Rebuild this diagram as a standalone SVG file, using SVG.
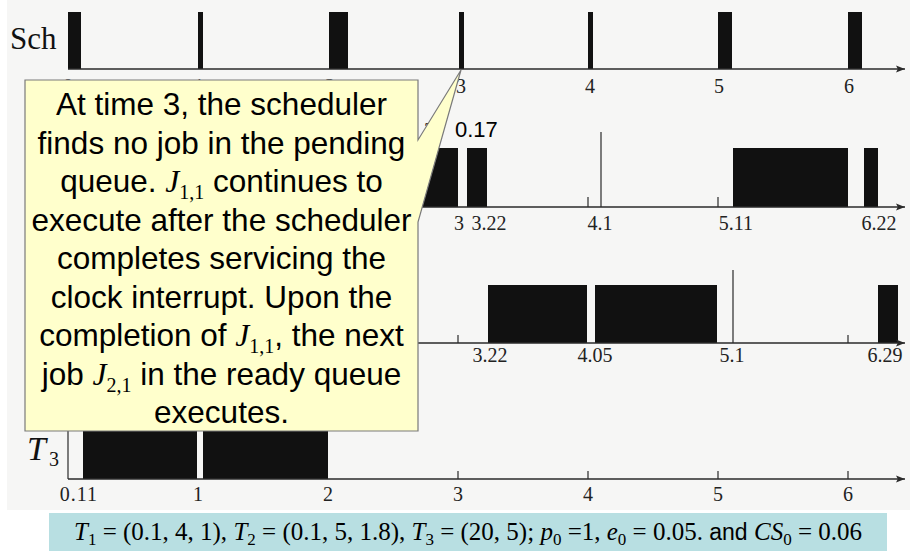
<svg xmlns="http://www.w3.org/2000/svg" width="910" height="555" viewBox="0 0 910 555">
<style>
.ax{stroke:#2a2a2a;stroke-width:1.4;fill:none}
.bar{fill:#111}
.tk{stroke:#2a2a2a;stroke-width:1.2}
.lb{font-family:"Liberation Serif",serif;font-size:20px;fill:#222;text-anchor:middle}
.co{font-family:"Liberation Sans",Arial,sans-serif;font-size:31.5px;fill:#000;text-anchor:middle}
.ji{font-family:"Liberation Serif",serif;font-style:italic}
.sb{font-family:"Liberation Serif",serif;font-size:20px}
.fm{font-family:"Liberation Serif",serif;font-size:25px;fill:#000;text-anchor:middle}
</style>
<defs>
<marker id="ah" viewBox="0 0 10 10" refX="10" refY="5" markerWidth="9" markerHeight="9" markerUnits="userSpaceOnUse" orient="auto">
<path d="M0,1 L10,5 L0,9 L2,5 Z" fill="#2a2a2a"/>
</marker>
</defs>
<rect x="0" y="0" width="910" height="555" fill="#ffffff"/>
<rect x="7" y="0" width="903" height="510" fill="#f6f6f5"/>

<g id="row-sch">
<text x="10" y="49" font-family="Liberation Serif,serif" font-size="31" fill="#111">Sch</text>
<rect class="bar" x="68" y="12" width="13" height="57"/>
<rect class="bar" x="198" y="12" width="5" height="57"/>
<rect class="bar" x="329" y="12" width="19" height="57"/>
<rect class="bar" x="459" y="12" width="5" height="57"/>
<rect class="bar" x="588" y="12" width="5" height="57"/>
<rect class="bar" x="718" y="12" width="14" height="57"/>
<rect class="bar" x="848" y="12" width="14" height="57"/>
<text class="lb" x="68" y="93">0</text>
<text class="lb" x="199" y="93">1</text>
<text class="lb" x="330" y="93">2</text>
<text class="lb" x="461" y="93">3</text>
<text class="lb" x="590" y="93">4</text>
<text class="lb" x="719" y="93">5</text>
<text class="lb" x="849" y="93">6</text>
</g>

<g id="row-t1">
<rect class="bar" x="400" y="148" width="58" height="59"/>
<rect class="bar" x="467" y="148" width="20" height="59"/>
<rect class="bar" x="733" y="148" width="115" height="59"/>
<rect class="bar" x="864" y="148" width="14" height="59"/>
<line class="tk" x1="601" y1="132" x2="601" y2="207"/>
<line class="tk" x1="588" y1="197" x2="588" y2="207"/>
<line class="tk" x1="718" y1="197" x2="718" y2="207"/>
<text x="424" y="137" font-family="Liberation Serif,serif" font-size="20" fill="#222">3</text>
<text x="455" y="137" font-family="Liberation Sans,Arial,sans-serif" font-size="22" fill="#000">0.17</text>
<text class="lb" x="459" y="230">3</text>
<text class="lb" x="489" y="230">3.22</text>
<text class="lb" x="600" y="230">4.1</text>
<text class="lb" x="736" y="230">5.11</text>
<text class="lb" x="879" y="230">6.22</text>
</g>

<g id="row-t2">
<rect class="bar" x="488" y="285" width="99" height="58"/>
<rect class="bar" x="595" y="285" width="122" height="58"/>
<rect class="bar" x="878" y="285" width="20" height="58"/>
<line class="tk" x1="733" y1="270" x2="733" y2="343"/>
<line class="tk" x1="458" y1="335" x2="458" y2="343"/>
<line class="tk" x1="848" y1="335" x2="848" y2="343"/>
<text class="lb" x="490" y="362">3.22</text>
<text class="lb" x="595" y="362">4.05</text>
<text class="lb" x="732" y="362">5.1</text>
<text class="lb" x="885" y="362">6.29</text>
</g>

<g id="row-t3">
<text x="27" y="460" font-family="Liberation Serif,serif" font-style="italic" font-size="34" fill="#111">T</text>
<text x="49" y="466" font-family="Liberation Serif,serif" font-size="20" fill="#111">3</text>
<line class="tk" x1="68" y1="420" x2="68" y2="479"/>
<rect class="bar" x="83" y="420" width="114" height="59"/>
<rect class="bar" x="203" y="420" width="125" height="59"/>
<line class="tk" x1="458" y1="471" x2="458" y2="479"/>
<line class="tk" x1="588" y1="471" x2="588" y2="479"/>
<line class="tk" x1="718" y1="471" x2="718" y2="479"/>
<line class="tk" x1="848" y1="471" x2="848" y2="479"/>
<text class="lb" x="79" y="501" letter-spacing="1">0.11</text>
<text class="lb" x="198" y="501">1</text>
<text class="lb" x="328" y="501">2</text>
<text class="lb" x="458" y="501">3</text>
<text class="lb" x="588" y="501">4</text>
<text class="lb" x="718" y="501">5</text>
<text class="lb" x="848" y="501">6</text>
</g>

<g id="connectors">
<line class="ax" x1="68" y1="69" x2="905" y2="69" marker-end="url(#ah)"/>
<line class="ax" x1="68" y1="207" x2="905" y2="207" marker-end="url(#ah)"/>
<line class="ax" x1="68" y1="343" x2="905" y2="343" marker-end="url(#ah)"/>
<line class="ax" x1="68" y1="479" x2="905" y2="479" marker-end="url(#ah)"/>
</g>

<g id="callout">
<path d="M25,80 H418 V140 L461,70 L418,222 V431 H25 Z" fill="#ffffcc" stroke="#7a7a7a" stroke-width="1.2"/>
<text class="co" x="221.5" y="115">At time 3, the scheduler</text>
<text class="co" x="221.5" y="153.5">finds no job in the pending</text>
<text class="co" x="221.5" y="192">queue. <tspan class="ji">J</tspan><tspan class="sb" dy="7">1,1</tspan><tspan dy="-7"> continues to</tspan></text>
<text class="co" x="221.5" y="230.5">execute after the scheduler</text>
<text class="co" x="221.5" y="269">completes servicing the</text>
<text class="co" x="221.5" y="307.5">clock interrupt. Upon the</text>
<text class="co" x="221.5" y="346">completion of <tspan class="ji">J</tspan><tspan class="sb" dy="7">1,1</tspan><tspan dy="-7">, the next</tspan></text>
<text class="co" x="221.5" y="384.5">job <tspan class="ji">J</tspan><tspan class="sb" dy="7">2,1</tspan><tspan dy="-7"> in the ready queue</tspan></text>
<text class="co" x="221.5" y="423">executes.</text>
</g>

<g id="formula">
<rect x="49" y="513" width="838" height="38" fill="#b8dfe2"/>
<text class="fm" x="468" y="540"><tspan font-style="italic">T</tspan><tspan font-size="17" dy="5">1</tspan><tspan dy="-5"> = (0.1, 4, 1), </tspan><tspan font-style="italic">T</tspan><tspan font-size="17" dy="5">2</tspan><tspan dy="-5"> = (0.1, 5, 1.8), </tspan><tspan font-style="italic">T</tspan><tspan font-size="17" dy="5">3</tspan><tspan dy="-5"> = (20, 5); </tspan><tspan font-style="italic">p</tspan><tspan font-size="17" dy="5">0</tspan><tspan dy="-5"> =1, </tspan><tspan font-style="italic">e</tspan><tspan font-size="17" dy="5">0</tspan><tspan dy="-5"> = 0.05. </tspan><tspan font-family="Liberation Sans,Arial,sans-serif" font-size="23">and </tspan><tspan font-style="italic">CS</tspan><tspan font-size="17" dy="5">0</tspan><tspan dy="-5"> = 0.06</tspan></text>
</g>
</svg>
